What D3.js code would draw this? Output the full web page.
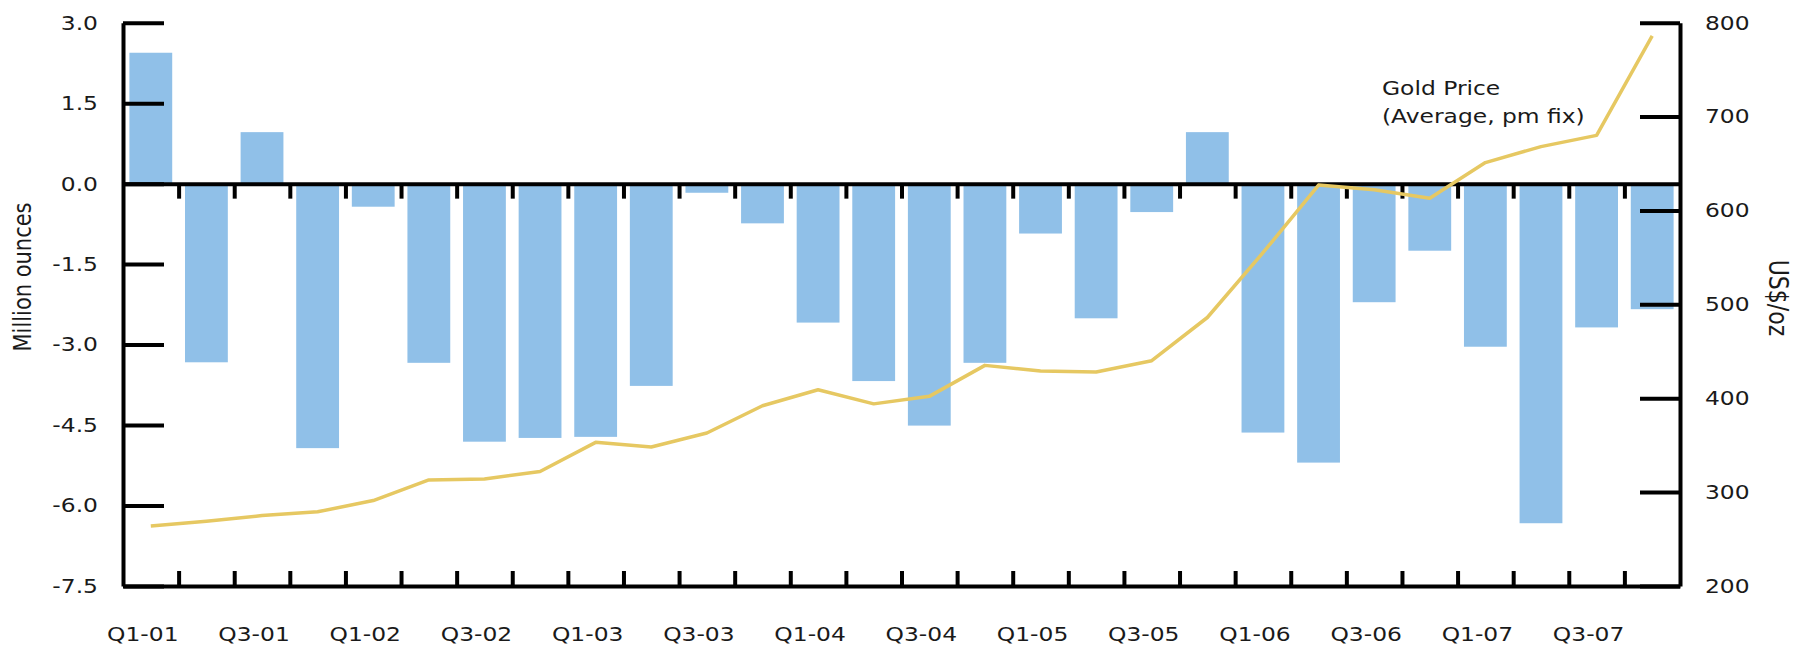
<!DOCTYPE html>
<html>
<head>
<meta charset="utf-8">
<script src="https://cdn.jsdelivr.net/npm/d3@7"></script>
<style>
  body { margin: 0; background: #fff; }
  svg { display: block; }
</style>
</head>
<body>
<svg id="chart"></svg>
<script>
// Quarters on the x axis
const quarters = [
  "Q1-01", "Q2-01", "Q3-01", "Q4-01",
  "Q1-02", "Q2-02", "Q3-02", "Q4-02",
  "Q1-03", "Q2-03", "Q3-03", "Q4-03",
  "Q1-04", "Q2-04", "Q3-04", "Q4-04",
  "Q1-05", "Q2-05", "Q3-05", "Q4-05",
  "Q1-06", "Q2-06", "Q3-06", "Q4-06",
  "Q1-07", "Q2-07", "Q3-07", "Q4-07"
];
// only every other quarter gets a label
const quarterLabels = ["Q1-01", "Q3-01", "Q1-02", "Q3-02", "Q1-03", "Q3-03", "Q1-04",
  "Q3-04", "Q1-05", "Q3-05", "Q1-06", "Q3-06", "Q1-07", "Q3-07"];

// Net hedging change, million ounces (bars, left axis)
const hedging = [2.44, -3.33, 0.96, -4.93, -0.43, -3.34, -4.81, -4.74,
  -4.72, -3.77, -0.17, -0.74, -2.59, -3.68, -4.51, -3.34,
  -0.93, -2.51, -0.53, 0.96, -4.64, -5.20, -2.21, -1.25,
  -3.04, -6.33, -2.68, -2.34];

// Gold price, average pm fix, US$/oz (line, right axis)
const goldPrice = [264, 269, 275, 279, 291, 313, 314, 322,
  353, 348, 363, 392, 409, 394, 402, 435,
  429, 428, 440, 486, 555, 627, 622, 613,
  651, 668, 680, 786];

const leftTicks = [3.0, 1.5, 0.0, -1.5, -3.0, -4.5, -6.0, -7.5];
const rightTicks = [800, 700, 600, 500, 400, 300, 200];

const W = 1797, H = 647;
const plotLeft = 123, plotRight = 1680, plotTop = 22.7, plotBottom = 586;
const sx = 1.17;        // text in the original is stretched horizontally
const font = "'DejaVu Sans', Verdana, sans-serif";
const textColor = "#1a1a1a";
const barColor = "#90c0e8";
const lineColor = "#e6c862";

const svg = d3.select("#chart")
  .attr("width", W)
  .attr("height", H)
  .style("background", "#fff");

// Scales
const xBar = d3.scaleBand()
  .domain(quarters)
  .range([plotLeft, plotRight])
  .paddingInner(0.23)
  .paddingOuter(0.115);

const xCat = d3.scaleBand()
  .domain(quarters)
  .range([plotLeft, plotRight]);

const xq = d3.scaleLinear()
  .domain([0, quarters.length])
  .range([plotLeft, plotRight]);

const y = d3.scaleLinear()
  .domain([-7.5, 3])
  .range([plotBottom, plotTop]);

const y2 = d3.scaleLinear()
  .domain([200, 800])
  .range([plotBottom, plotTop]);

// Bars
svg.selectAll(".bar")
  .data(hedging)
  .enter().append("rect")
  .attr("class", "bar")
  .attr("x", (d, i) => xBar(quarters[i]))
  .attr("y", d => y(Math.max(0, d)))
  .attr("width", xBar.bandwidth())
  .attr("height", d => Math.abs(y(d) - y(0)))
  .attr("fill", barColor);

function styleAxis(g) {
  g.selectAll("path.domain").attr("stroke", "#000").attr("stroke-width", 4);
  g.selectAll(".tick line").attr("stroke", "#000").attr("stroke-width", 4);
  g.selectAll("text")
    .attr("fill", textColor)
    .style("font-family", font)
    .style("font-size", "20px");
}

// Left axis (plain hyphen for negatives, as in the original)
const leftAxis = svg.append("g")
  .attr("transform", "translate(" + plotLeft + ",0)")
  .call(d3.axisLeft(y)
    .tickValues(leftTicks)
    .tickSizeInner(-41)
    .tickSizeOuter(0)
    .tickPadding(25)
    .tickFormat(d => d.toFixed(1)));
styleAxis(leftAxis);
leftAxis.selectAll("text")
  .attr("x", -25 / sx)
  .attr("transform", "scale(" + sx + ",1)");

// Right axis
const rightAxis = svg.append("g")
  .attr("transform", "translate(" + plotRight + ",0)")
  .call(d3.axisRight(y2)
    .tickValues(rightTicks)
    .tickSizeInner(-40)
    .tickSizeOuter(0)
    .tickPadding(25));
styleAxis(rightAxis);
rightAxis.selectAll("text")
  .attr("x", 25 / sx)
  .attr("transform", "scale(" + sx + ",1)");

// Zero line with downward ticks between quarters
const zeroAxis = svg.append("g")
  .attr("transform", "translate(0," + y(0) + ")")
  .call(d3.axisBottom(xq)
    .tickValues(d3.range(1, quarters.length))
    .tickSizeInner(15)
    .tickSizeOuter(0)
    .tickFormat(""));
styleAxis(zeroAxis);

// Bottom axis with upward ticks
const bottomAxis = svg.append("g")
  .attr("transform", "translate(0," + plotBottom + ")")
  .call(d3.axisBottom(xq)
    .tickValues(d3.range(1, quarters.length))
    .tickSizeInner(-15)
    .tickSizeOuter(0)
    .tickFormat(""));
styleAxis(bottomAxis);

// Quarter labels
const labelAxis = svg.append("g")
  .attr("transform", "translate(0," + plotBottom + ")")
  .call(d3.axisBottom(xCat)
    .tickValues(quarterLabels)
    .tickSize(0)
    .tickPadding(41));
styleAxis(labelAxis);
labelAxis.select("path.domain").remove();
labelAxis.selectAll("text")
  .attr("x", -8 / sx)
  .attr("transform", "scale(" + sx + ",1)");

// Gold price line
const line = d3.line()
  .x((d, i) => xCat(quarters[i]) + xCat.bandwidth() / 2)
  .y(d => y2(d));

svg.append("path")
  .datum(goldPrice)
  .attr("fill", "none")
  .attr("stroke", lineColor)
  .attr("stroke-width", 3.5)
  .attr("stroke-linejoin", "round")
  .attr("d", line);

// Axis titles
svg.append("text")
  .attr("transform", "translate(22,277) scale(" + sx + ",1) rotate(-90)")
  .attr("text-anchor", "middle")
  .attr("dy", "0.35em")
  .attr("fill", textColor)
  .style("font-family", font)
  .style("font-size", "21px")
  .text("Million ounces");

svg.append("text")
  .attr("transform", "translate(1778,298) scale(" + sx + ",1) rotate(90)")
  .attr("text-anchor", "middle")
  .attr("dy", "0.35em")
  .attr("fill", textColor)
  .style("font-family", font)
  .style("font-size", "22px")
  .text("US$/oz");

// Line annotation
const note = svg.append("text")
  .attr("transform", "translate(1382,0) scale(" + sx + ",1)")
  .attr("fill", textColor)
  .style("font-family", font)
  .style("font-size", "20px");
note.append("tspan").attr("x", 0).attr("y", 95).text("Gold Price");
note.append("tspan").attr("x", 0).attr("y", 123).text("(Average, pm fix)");
</script>
</body>
</html>
